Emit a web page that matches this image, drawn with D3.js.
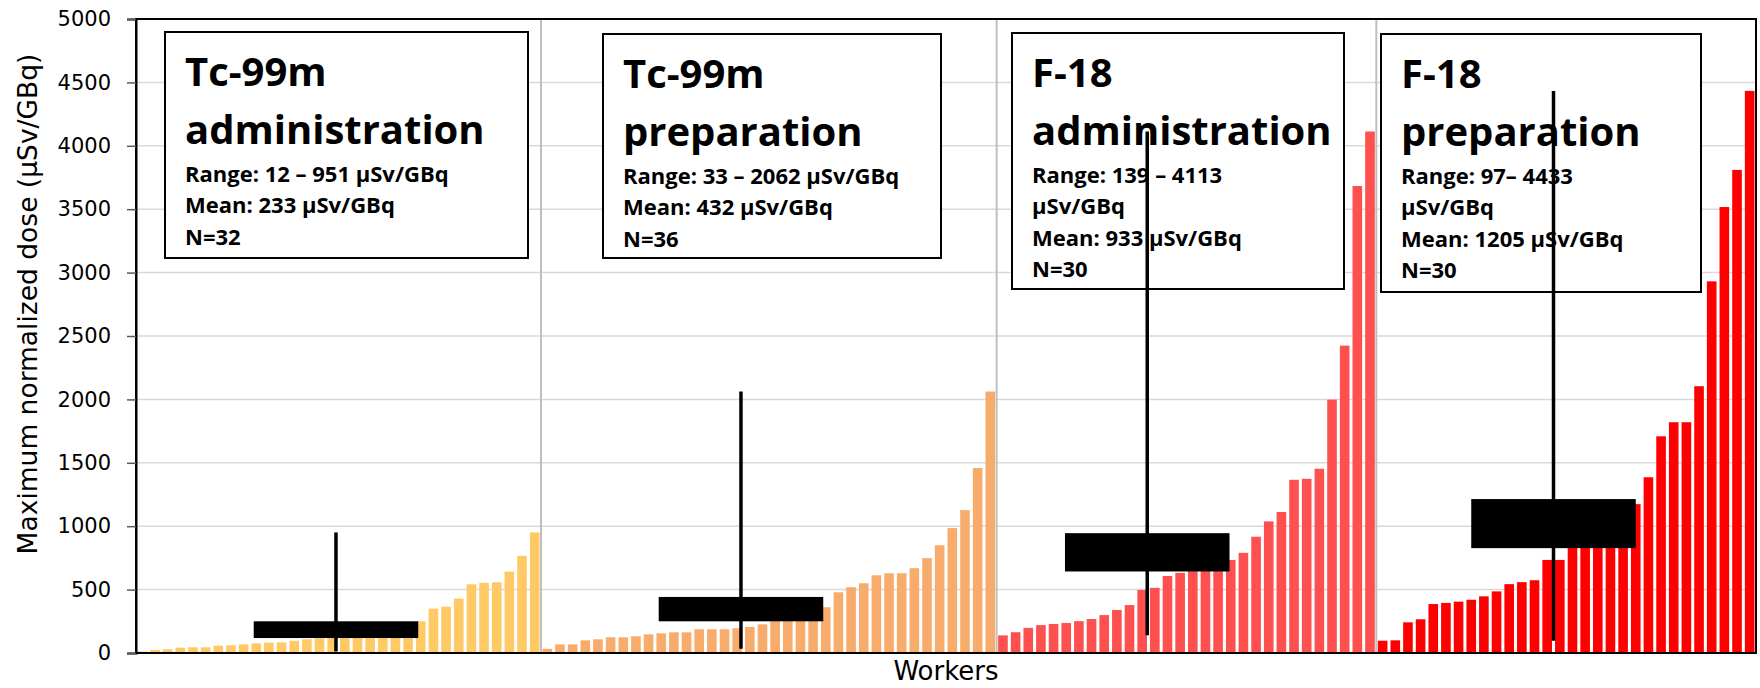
<!DOCTYPE html>
<html><head><meta charset="utf-8">
<script src="https://cdn.jsdelivr.net/npm/d3@7"></script>
<style>html,body{margin:0;padding:0;background:#fff;} svg{display:block;}</style>
</head><body><svg id="chart" width="1760" height="688"></svg>
<script>
// ---------------- DATA ----------------
const categories = ["Tc-99m administration", "Tc-99m preparation", "F-18 administration", "F-18 preparation"];
const tcAdmin = [12, 24, 29, 42, 45, 45, 58, 61, 68, 76, 82, 84, 97, 108, 116, 125, 135, 145, 155, 165, 180, 197, 250, 350, 366, 429, 542, 553, 558, 642, 766, 951];
const tcPrep = [33, 68, 68, 100, 108, 124, 124, 132, 147, 155, 163, 163, 187, 187, 187, 195, 205, 226, 270, 310, 345, 355, 361, 479, 519, 550, 613, 629, 629, 669, 748, 850, 985, 1127, 1459, 2062];
const f18Admin = [139, 164, 198, 220, 229, 237, 251, 268, 299, 339, 378, 497, 514, 607, 632, 650, 665, 700, 734, 790, 917, 1038, 1112, 1366, 1374, 1453, 1998, 2424, 3683, 4113];
const f18Prep = [97, 100, 242, 266, 386, 395, 405, 420, 447, 486, 543, 559, 574, 734, 734, 880, 950, 1010, 1080, 1138, 1174, 1386, 1709, 1820, 1820, 2104, 2931, 3517, 3810, 4433];
const rangeMin = [12, 33, 139, 97];
const rangeMax = [951, 2062, 4113, 4433];
const boxLow = [118, 250, 643, 827];
const boxHigh = [250, 442, 945, 1214];
const markerCenter = [15.8, 47.8, 79.9, 112.0]; // worker index
const markerSpan = 13;                          // workers
const yTicks = [0, 500, 1000, 1500, 2000, 2500, 3000, 3500, 4000, 4500, 5000];
const titleLines = [["Tc-99m", "administration"], ["Tc-99m", "preparation"], ["F-18", "administration"], ["F-18", "preparation"]];
const detailLines = [
  ["Range: 12 – 951 μSv/GBq", "Mean: 233 μSv/GBq", "N=32"],
  ["Range: 33 – 2062 μSv/GBq", "Mean: 432 μSv/GBq", "N=36"],
  ["Range: 139 – 4113", "μSv/GBq", "Mean: 933 μSv/GBq", "N=30"],
  ["Range: 97– 4433", "μSv/GBq", "Mean: 1205 μSv/GBq", "N=30"]
];
const xTitle = "Workers";
const yTitle = "Maximum normalized dose (μSv/GBq)";

// ---------------- STYLE / LAYOUT ----------------
const colors = ["#FFCA66", "#F8AC6B", "#FF5050", "#FF0000"];
const M = {left: 136, right: 1756, top: 19, bottom: 653};
const textBoxes = [[165, 32, 363, 226], [603, 34, 338, 224], [1012, 33, 332, 256], [1381, 34, 320, 258]];
const tickFont = "'DejaVu Sans', sans-serif";
const boxFont = "'Open Sans', 'DejaVu Sans', sans-serif";

const svg = d3.select("#chart");
const groups = [tcAdmin, tcPrep, f18Admin, f18Prep];
const bars = [];
groups.forEach((g, gi) => g.forEach((v, i) => bars.push({group: gi, value: v, key: gi + "-" + i})));

const x = d3.scaleBand().domain(bars.map(d => d.key)).range([M.left, M.right]).paddingInner(0.24).paddingOuter(0.12);
const xw = d3.scaleLinear().domain([0, bars.length]).range([M.left, M.right]);
const y = d3.scaleLinear().domain([0, 5000]).range([M.bottom, M.top]);

// gridlines
svg.append("g").selectAll("line").data(yTicks.filter(t => t > 0 && t < 5000)).join("line")
  .attr("x1", M.left).attr("x2", M.right).attr("y1", d => y(d)).attr("y2", d => y(d))
  .attr("stroke", "#d9d9d9").attr("stroke-width", 1.5);

// group separators
const bounds = [];
let acc = 0;
groups.forEach((g, i) => { acc += g.length; if (i < groups.length - 1) bounds.push(acc); });
svg.append("g").selectAll("line").data(bounds).join("line")
  .attr("x1", d => xw(d)).attr("x2", d => xw(d)).attr("y1", M.top).attr("y2", M.bottom)
  .attr("stroke", "#bfbfbf").attr("stroke-width", 2);

// baseline
svg.append("line").attr("x1", M.left).attr("x2", M.right).attr("y1", y(0)).attr("y2", y(0))
  .attr("stroke", "#000").attr("stroke-width", 2);

// bars
svg.append("g").selectAll("rect").data(bars).join("rect")
  .attr("x", d => x(d.key)).attr("width", x.bandwidth())
  .attr("y", d => y(d.value)).attr("height", d => y(0) - y(d.value))
  .attr("fill", d => colors[d.group]);

// plot frame
svg.append("rect").attr("x", M.left).attr("y", M.top).attr("width", M.right - M.left).attr("height", M.bottom - M.top)
  .attr("fill", "none").attr("stroke", "#000").attr("stroke-width", 2);

// y axis
const yAxis = svg.append("g").attr("transform", `translate(${M.left},0)`)
  .call(d3.axisLeft(y).tickValues(yTicks).tickSize(9).tickPadding(16).tickFormat(d3.format("d")));
yAxis.select(".domain").attr("stroke", "#000").attr("stroke-width", 2);
yAxis.selectAll(".tick line").attr("stroke", "#595959").attr("stroke-width", 1.5);
yAxis.selectAll(".tick text").attr("font-family", tickFont).attr("font-size", 21).attr("fill", "#000");

// text boxes
categories.forEach((c, i) => {
  const [bx, by, bw, bh] = textBoxes[i];
  const g = svg.append("g").attr("class", "label-box");
  g.append("rect").attr("x", bx).attr("y", by).attr("width", bw).attr("height", bh)
    .attr("fill", "#fff").attr("stroke", "#000").attr("stroke-width", 2);
  titleLines[i].forEach((t, k) => {
    g.append("text").attr("x", bx + 20).attr("y", by + 54 + k * 58)
      .attr("font-family", boxFont).attr("font-weight", 700).attr("font-size", 40).attr("fill", "#000").text(t);
  });
  detailLines[i].forEach((t, k) => {
    g.append("text").attr("x", bx + 20).attr("y", by + 150 + k * 31.3)
      .attr("font-family", boxFont).attr("font-weight", 700).attr("font-size", 22).attr("fill", "#000").text(t);
  });
});

// mean boxes
svg.append("g").selectAll("rect").data(categories.map((c, i) => i)).join("rect")
  .attr("x", i => xw(markerCenter[i] - markerSpan / 2)).attr("width", i => xw(markerSpan) - xw(0))
  .attr("y", i => y(boxHigh[i])).attr("height", i => y(boxLow[i]) - y(boxHigh[i]))
  .attr("fill", "#000");

// range lines
svg.append("g").selectAll("line").data(categories.map((c, i) => i)).join("line")
  .attr("x1", i => xw(markerCenter[i])).attr("x2", i => xw(markerCenter[i]))
  .attr("y1", i => y(rangeMax[i])).attr("y2", i => y(rangeMin[i]))
  .attr("stroke", "#000").attr("stroke-width", 3.5);

// axis titles
svg.append("text").attr("x", (M.left + M.right) / 2).attr("y", 680).attr("text-anchor", "middle")
  .attr("font-family", tickFont).attr("font-size", 26).attr("fill", "#000").text(xTitle);
svg.append("text").attr("transform", `translate(37,304) rotate(-90)`).attr("text-anchor", "middle")
  .attr("font-family", tickFont).attr("font-size", 26.5).attr("fill", "#000").text(yTitle);
</script>
</body></html>
